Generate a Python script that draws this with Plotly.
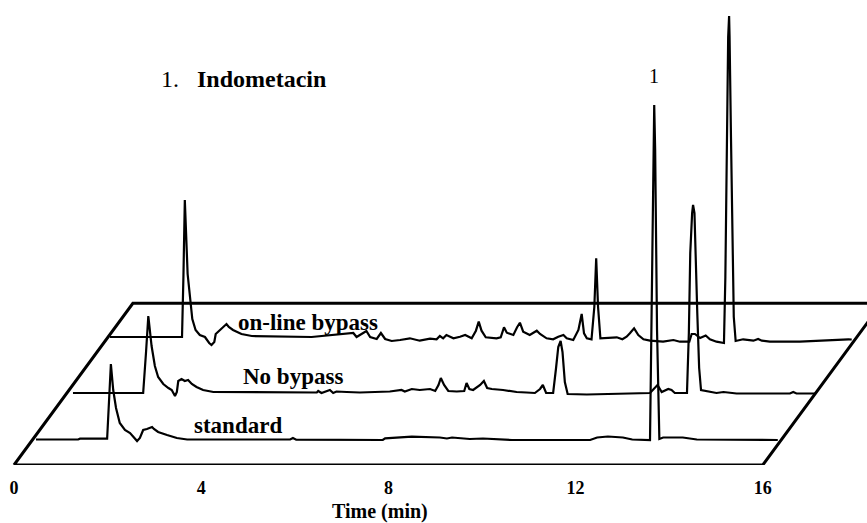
import plotly.graph_objects as go

# ---------------- data (time in min, signal in arbitrary units) ----------------
trace_names = ["standard", "No bypass", "on-line bypass"]

standard = [(0.00, 0.5), (0.90, 0.5), (0.94, 1.3), (1.52, 1.3), (1.54, 20), (1.60, 76), (1.65, 50),
            (1.71, 32), (1.79, 17), (1.90, 10), (2.01, 7), (2.07, 4), (2.16, -1), (2.22, 2), (2.29, 10),
            (2.37, 11), (2.48, 13), (2.52, 11), (2.61, 8), (2.80, 5), (3.01, 2), (3.23, 0.5), (5.43, 0.5),
            (5.49, 2), (5.56, 0.3), (7.41, 0), (7.46, 1.7), (8.03, 3.3), (8.63, 2.5), (8.78, 1.5),
            (8.89, 2.5), (9.27, 1), (9.55, 1.5), (10.17, 0), (11.84, 0), (11.99, 2.5), (12.22, 3.5),
            (12.54, 2.5), (12.74, 0.5), (13.12, 0), (13.16, 140), (13.19, 290), (13.21, 335),
            (13.23, 290), (13.27, 110), (13.32, 1), (13.40, 2.5), (13.82, 2.5), (14.12, 0.5), (15.85, 0)]

no_bypass = [(0.00, 0), (1.50, 0), (1.56, 40), (1.61, 77), (1.68, 47), (1.75, 27), (1.82, 16), (1.93, 9),
             (2.04, 5), (2.11, 3), (2.18, -3), (2.22, 1), (2.25, 12), (2.32, 14), (2.39, 12), (2.46, 13),
             (2.54, 9), (2.64, 6), (2.78, 3), (3.00, 1), (5.21, 0.5), (5.24, 2), (5.31, 0), (5.49, 3),
             (5.56, 0), (5.63, 1.5), (5.85, 1), (6.13, 0.5), (6.77, 1.5), (7.02, 3), (7.09, 1.5),
             (7.24, 4), (7.41, 3), (7.63, 4), (7.74, 2), (7.81, 8), (7.86, 15), (7.93, 8), (8.02, 2),
             (8.20, 1.5), (8.36, 2), (8.41, 10), (8.47, 4), (8.55, 3), (8.70, 8), (8.78, 12), (8.85, 5),
             (8.95, 4), (9.19, 3), (9.48, 1), (9.69, 0.5), (9.87, 0), (9.98, 4), (10.04, 8), (10.11, 0),
             (10.26, 0), (10.32, 24), (10.37, 46), (10.42, 52), (10.46, 41), (10.51, 11), (10.57, -1),
             (10.98, -1.5), (11.33, -1), (12.04, -0.5), (12.33, 0), (12.49, 8), (12.58, 1), (12.72, 4),
             (12.79, 3), (12.86, 0), (13.08, 0), (13.12, 0), (13.16, 60), (13.19, 140), (13.23, 180),
             (13.25, 188), (13.28, 180), (13.31, 140), (13.34, 80), (13.38, 25), (13.42, 3), (13.75, 0),
             (13.90, 1), (14.18, -0.5), (15.32, -0.5), (15.39, 1), (15.46, -0.5), (15.85, -0.5)]

online_bypass = [(0.00, 0), (1.54, 0), (1.57, 60), (1.60, 137), (1.66, 63), (1.71, 37), (1.76, 18),
                 (1.83, 7), (1.92, 2), (2.03, 0), (2.12, -6), (2.17, -8), (2.23, -5), (2.26, 3),
                 (2.35, 7), (2.42, 10), (2.49, 13), (2.54, 10), (2.63, 7), (2.81, 3), (3.03, 1),
                 (4.31, 0), (5.20, 4), (5.27, 0), (5.38, 3), (5.48, 6), (5.56, 0), (5.70, -2), (5.79, 4),
                 (5.88, -2), (6.02, -4), (6.16, -3.5), (6.20, -3), (6.41, -1.3), (6.62, -3.7),
                 (6.84, -1.7), (6.98, -2.3), (7.05, 1), (7.12, -1.3), (7.19, 2), (7.34, -1.3),
                 (7.48, 0.3), (7.59, 2), (7.73, -1.3), (7.82, 6.3), (7.88, 15.3), (7.94, 6.3),
                 (8.03, -0.3), (8.26, -1.3), (8.35, -0.3), (8.42, 9.7), (8.48, 4.3), (8.62, 2),
                 (8.70, 9.7), (8.76, 14.3), (8.83, 5.3), (8.97, 2), (9.12, 6.3), (9.19, 3), (9.33, -1.3),
                 (9.47, -2.3), (9.58, 0.3), (9.69, 2), (9.76, -1.3), (9.90, -3), (10.01, 7), (10.08, 23),
                 (10.13, 3.7), (10.19, -1.3), (10.29, -2.3), (10.35, 30), (10.39, 78.7), (10.43, 30),
                 (10.48, -1.3), (10.61, -0.7), (10.83, -0.3), (10.95, -2.3), (11.04, 0.3), (11.11, 3.7),
                 (11.20, 8.7), (11.29, 2), (11.40, -2.3), (11.54, -3.7), (11.82, -4.7), (12.04, -3),
                 (12.18, -4.7), (12.38, -4.7), (12.43, 3), (12.50, 3), (12.61, -1), (12.73, 1.5),
                 (12.82, -2.3), (12.96, -4.7), (13.09, -6.3), (13.12, -6), (13.15, 60), (13.18, 200),
                 (13.21, 300), (13.23, 321), (13.24, 300), (13.27, 200), (13.30, 90), (13.33, 20),
                 (13.37, -4), (13.53, -2.3), (13.75, -3.7), (13.85, -2), (13.93, -3.7), (14.10, -4.7),
                 (14.74, -4.7), (15.10, -3.7), (15.46, -3), (15.78, -2.3), (15.85, -2.5)]

# pseudo-3D depth offset of each trace (time shift in min, signal shift)
depth_dt = [0.47, 1.26, 2.05]
depth_dy = [25, 72, 128]

# floor frame of the stacked plot
frame_time = [0, 16]
frame_depth_dt = 2.54
frame_depth_dy = 161.7

tick_vals = [0, 4, 8, 12, 16]
tick_text = ["0", "4", "8", "12", "16"]
x_title = "Time (min)"
compound_label = "1."
compound_name = "Indometacin"
peak_label = "1"
peak_time = 13.21

FONT = "Liberation Serif, Times New Roman, serif"

fig = go.Figure()

# frame (parallelogram)
fx = [frame_time[0], frame_time[1], frame_time[1] + frame_depth_dt, frame_time[0] + frame_depth_dt, frame_time[0]]
fy = [0, 0, frame_depth_dy, frame_depth_dy, 0]
fig.add_trace(go.Scatter(x=fx, y=fy, mode="lines", line=dict(color="black", width=3),
                         hoverinfo="skip", showlegend=False))

for data, dt, dy, name in zip([standard, no_bypass, online_bypass], depth_dt, depth_dy, trace_names):
    xs = [t + dt for t, _ in data]
    ys = [h + dy for _, h in data]
    fig.add_trace(go.Scatter(x=xs, y=ys, mode="lines", name=name,
                             line=dict(color="black", width=2.2), showlegend=False))

# trace labels
label_pos = [(4.79, 40), (5.96, 89), (6.28, 143)]
for name, (lx, ly) in zip(trace_names, label_pos):
    fig.add_annotation(x=lx, y=ly, text="<b>%s</b>" % name, showarrow=False,
                       font=dict(family=FONT, size=23, color="black"), xanchor="center", yanchor="middle")

fig.add_annotation(x=4.91, y=386, text="%s&nbsp;&nbsp; <b>%s</b>" % (compound_label, compound_name),
                   showarrow=False, font=dict(family=FONT, size=24, color="black"),
                   xanchor="center", yanchor="middle")
fig.add_annotation(x=peak_time + depth_dt[0], y=389, text=peak_label, showarrow=False,
                   font=dict(family=FONT, size=20, color="black"), xanchor="center", yanchor="middle")
fig.add_annotation(x=7.82, xref="x", y=-46 / 465, yref="paper", text="<b>%s</b>" % x_title,
                   showarrow=False, font=dict(family=FONT, size=20, color="black"),
                   xanchor="center", yanchor="middle")

PX_PER_MIN = 46.8
fig.update_layout(
    width=867, height=523,
    margin=dict(l=0, r=0, t=0, b=58),
    paper_bgcolor="white", plot_bgcolor="white",
    xaxis=dict(range=[-14 / PX_PER_MIN, (867 - 14) / PX_PER_MIN], showgrid=False, zeroline=False,
               showline=False, tickmode="array", tickvals=tick_vals,
               ticktext=["<b>%s</b>" % s for s in tick_text],
               ticks="outside", ticklen=6, tickcolor="rgba(0,0,0,0)",
               tickfont=dict(family=FONT, size=18, color="black")),
    yaxis=dict(range=[0, 465], visible=False),
)

fig.write_html("out.html")
